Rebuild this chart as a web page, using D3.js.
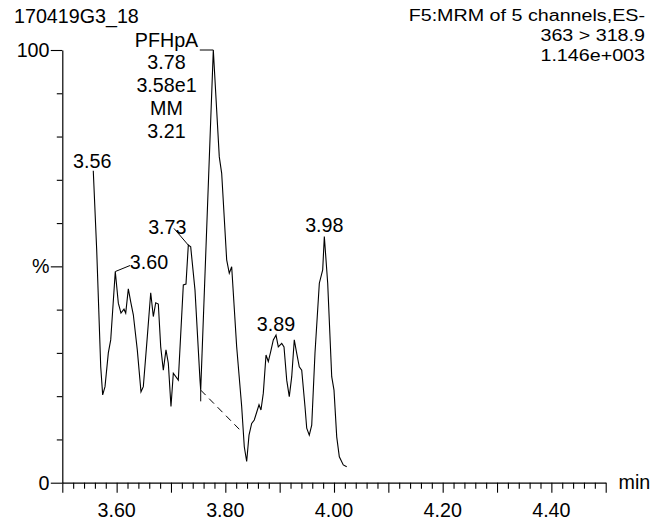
<!DOCTYPE html>
<html>
<head>
<meta charset="utf-8">
<script src="https://cdn.jsdelivr.net/npm/d3@7"></script>
<style>
  html, body { margin: 0; padding: 0; background: #fff; }
  svg { display: block; }
  text { font-family: "Liberation Sans", Arial, Helvetica, sans-serif; fill: #000; }
</style>
</head>
<body>
<svg id="chart" width="653" height="520"></svg>
<script>
// ---------------- data ----------------
const times = [3.5570,3.5633,3.5707,3.5743,3.5786,3.5847,3.5891,3.5975,3.6031,3.6080,
  3.6135,3.6167,3.6215,3.6259,3.6307,3.6380,3.6448,3.6491,3.6564,3.6627,
  3.6675,3.6719,3.6767,3.6811,3.6859,3.6908,3.6951,3.7000,3.7043,3.7135,
  3.7227,3.7276,3.7319,3.7363,3.7442,3.7534,3.7547,3.7779,3.7889,3.7933,
  3.8025,3.8073,3.8117,3.8209,3.8301,3.8349,3.8393,3.8436,3.8485,3.8533,
  3.8620,3.8656,3.8699,3.8749,3.8791,3.8835,3.8883,3.8933,3.8975,3.9038,
  3.9080,3.9130,3.9177,3.9222,3.9269,3.9314,3.9361,3.9406,3.9466,3.9498,
  3.9545,3.9590,3.9650,3.9730,3.9792,3.9822,3.9884,3.9958,4.0000,4.0050,
  4.0098,4.0171,4.0234];
const intensity = [72.1,53.8,26.8,20.3,22.2,30.0,33.0,48.8,41.5,39.2,
  40.1,39.2,44.8,41.8,38.8,30.7,21.0,22.2,33.7,43.9,
  38.4,41.6,41.3,31.4,26.0,30.7,27.6,17.6,25.3,23.7,
  45.7,45.9,54.9,54.5,44.5,23.7,21.4,100.0,75.3,71.5,
  51.5,48.4,49.9,31.4,17.6,8.3,4.9,11.0,13.7,14.5,
  18.0,16.8,20.7,29.5,28.0,30.3,33.0,34.1,31.4,32.2,
  31.4,23.7,19.9,24.5,33.0,29.9,26.8,26.0,17.6,12.6,
  11.0,13.3,29.9,46.1,49.2,56.9,46.1,24.5,21.4,10.6,
  6.0,4.1,3.7];

// integration baseline of the main peak (start, end)
const baselineT = [3.7547, 3.8316];
const baselineY = [21.4, 11.6];
const baselineMarkY = [21.4, 18.8];

// peak labels
const peakLabels = ["3.56", "3.60", "3.73", "3.89", "3.98"];
const peakTimes  = [3.5570, 3.5975, 3.7319, 3.8933, 3.9822];
const peakValues = [72.1, 48.8, 54.9, 34.1, 56.9];

// main peak annotation
const mainPeakLines = ["PFHpA", "3.78", "3.58e1", "MM", "3.21"];
const mainPeakT = 3.7779, mainPeakV = 100;

// header text
const titleLeft = "170419G3_18";
const titleRight = ["F5:MRM of 5 channels,ES-", "363 > 318.9", "1.146e+003"];

// axes
const xTickValues = d3.range(0, 51).map(i => +(3.5 + i * 0.02).toFixed(2));
const xLabelValues = [3.6, 3.8, 4.0, 4.2, 4.4];
const yTickValues = d3.range(0, 11).map(i => i * 10);
const yLabelMap = new Map([[0, "0"], [50, "%"], [100, "100"]]);
const xUnit = "min";

// ---------------- drawing ----------------
const FS = 19.7;
const CY = 7;   // offset from visual centre to baseline
const svg = d3.select("#chart");
const x = d3.scaleLinear().domain([3.5, 4.5]).range([62.3, 605.7]);
const y = d3.scaleLinear().domain([0, 100]).range([482.7, 50]);

const isMajorX = v => Math.abs(v * 10 - Math.round(v * 10)) < 1e-6;

// x axis
const xAxis = d3.axisBottom(x).tickValues(xTickValues).tickSizeOuter(0).tickFormat("");
const gx = svg.append("g").attr("transform", `translate(0,${y(0)})`).call(xAxis);
gx.select(".domain").attr("stroke", "#000").attr("stroke-width", 1.2);
gx.selectAll(".tick line").attr("stroke", "#000").attr("stroke-width", 1.1)
  .attr("y2", d => isMajorX(d) ? 10 : 6);
gx.selectAll(".tick text").remove();
svg.append("g").selectAll("text").data(xLabelValues).join("text")
  .attr("x", d => x(d)).attr("y", 509.5 + CY)
  .attr("text-anchor", "middle").attr("font-size", FS)
  .text(d => d.toFixed(2));
svg.append("text").attr("x", 618.5).attr("y", y(0) + CY - 1)
  .attr("font-size", FS).text(xUnit);

// y axis
const yAxis = d3.axisLeft(y).tickValues(yTickValues).tickSizeOuter(0).tickFormat("");
const gy = svg.append("g").attr("transform", `translate(${x(3.5)},0)`).call(yAxis);
gy.select(".domain").attr("stroke", "#000").attr("stroke-width", 1.2);
gy.selectAll(".tick line").attr("stroke", "#000").attr("stroke-width", 1.1)
  .attr("x2", d => yLabelMap.has(d) ? -11.5 : -5.5);
gy.selectAll(".tick text").remove();
svg.append("g").selectAll("text").data(yTickValues.filter(d => yLabelMap.has(d))).join("text")
  .attr("x", 49.5).attr("y", d => y(d) + CY)
  .attr("text-anchor", "end").attr("font-size", FS)
  .text(d => yLabelMap.get(d));

// trace
const line = d3.line().x((d, i) => x(times[i])).y((d, i) => y(intensity[i]));
svg.append("path").datum(intensity).attr("d", line)
  .attr("fill", "none").attr("stroke", "#000").attr("stroke-width", 1.1)
  .attr("stroke-linejoin", "miter");

// integration baseline (dashed)
svg.append("line")
  .attr("x1", x(baselineT[0])).attr("y1", y(baselineY[0]))
  .attr("x2", x(baselineT[1])).attr("y2", y(baselineY[1]))
  .attr("stroke", "#000").attr("stroke-width", 1).attr("stroke-dasharray", "7,5");
svg.append("line")
  .attr("x1", x(baselineT[0])).attr("y1", y(baselineMarkY[0]))
  .attr("x2", x(baselineT[0])).attr("y2", y(baselineMarkY[1]))
  .attr("stroke", "#000").attr("stroke-width", 1);

// peak labels
const labelStyle = {
  "3.56": {dx: -1, dy: -9.5, anchor: "middle"},
  "3.60": {dx: 14.5, dy: -10, anchor: "start", leader: [14.7, -6]},
  "3.73": {dx: -21, dy: -18, anchor: "middle", leader: [-14.3, -16.7]},
  "3.89": {dx: 0, dy: -11, anchor: "middle"},
  "3.98": {dx: 0, dy: -11.5, anchor: "middle"}
};
peakLabels.forEach((lab, i) => {
  const px = x(peakTimes[i]), py = y(peakValues[i]);
  const s = labelStyle[lab];
  if (s.leader) {
    svg.append("line").attr("x1", px).attr("y1", py)
      .attr("x2", px + s.leader[0]).attr("y2", py + s.leader[1])
      .attr("stroke", "#000").attr("stroke-width", 1);
  }
  svg.append("text").attr("x", px + s.dx).attr("y", py + s.dy + CY)
    .attr("text-anchor", s.anchor).attr("font-size", FS).text(lab);
});

// main peak annotation
const mpx = x(mainPeakT), mpy = y(mainPeakV);
svg.append("line").attr("x1", mpx - 13.5).attr("y1", mpy).attr("x2", mpx).attr("y2", mpy)
  .attr("stroke", "#000").attr("stroke-width", 1);
svg.append("g").selectAll("text").data(mainPeakLines).join("text")
  .attr("x", 166.5).attr("y", (d, i) => 39.5 + i * 22.8 + CY)
  .attr("text-anchor", "middle").attr("font-size", FS).text(d => d);

// header
svg.append("text").attr("x", 14).attr("y", 15.7 + CY).attr("font-size", FS).text(titleLeft);
// right header: tightly stacked lines; use a slightly smaller font stretched to the
// reference width so the line boxes do not overlap
const FSR = 17.3;
const rightTexts = svg.append("g").selectAll("text").data(titleRight).join("text")
  .attr("x", 645).attr("y", (d, i) => 15 + i * 19.6 + 6.3)
  .attr("text-anchor", "end").attr("font-size", FS).text(d => d);
rightTexts.each(function () {
  const w = this.getComputedTextLength();
  d3.select(this).attr("font-size", FSR)
    .attr("textLength", w).attr("lengthAdjust", "spacingAndGlyphs");
});
</script>
</body>
</html>
